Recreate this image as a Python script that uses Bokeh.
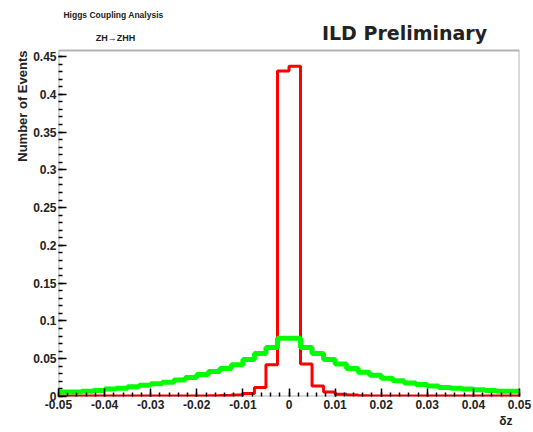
import numpy as np
from bokeh.plotting import figure
from bokeh.models import Range1d, FixedTicker, Label, Title, BoxAnnotation
from bokeh.embed import file_html
from bokeh.resources import INLINE

# ---- data ----
X_MIN, X_MAX, N_BINS = -0.05, 0.05, 40
bin_edges = [X_MIN + (X_MAX - X_MIN) * i / N_BINS for i in range(N_BINS + 1)]

red_values = [0.0005, 0.0005, 0.0005, 0.0005, 0.0005, 0.0005, 0.0005, 0.0005,
              0.0005, 0.0005, 0.0007, 0.0007, 0.0008, 0.0010, 0.0012, 0.0020,
              0.0040, 0.0120, 0.0420, 0.4310, 0.4370, 0.0430, 0.0140, 0.0060,
              0.0030, 0.0020, 0.0010, 0.0008, 0.0007, 0.0006, 0.0005, 0.0005,
              0.0005, 0.0005, 0.0005, 0.0005, 0.0005, 0.0005, 0.0005, 0.0005]

green_values = [0.006, 0.006, 0.007, 0.008, 0.010, 0.011, 0.013, 0.015,
                0.017, 0.019, 0.022, 0.025, 0.029, 0.033, 0.037, 0.042,
                0.049, 0.057, 0.065, 0.077, 0.077, 0.065, 0.057, 0.049,
                0.043, 0.037, 0.032, 0.028, 0.024, 0.021, 0.018, 0.016,
                0.014, 0.012, 0.011, 0.010, 0.009, 0.008, 0.007, 0.007]

x_ticks = [-0.05, -0.04, -0.03, -0.02, -0.01, 0.0, 0.01, 0.02, 0.03, 0.04, 0.05]
x_tick_labels = ["-0.05", "-0.04", "-0.03", "-0.02", "-0.01", "0",
                 "0.01", "0.02", "0.03", "0.04", "0.05"]
y_ticks = [0.0, 0.05, 0.1, 0.15, 0.2, 0.25, 0.3, 0.35, 0.4, 0.45]
y_tick_labels = ["0", "0.05", "0.1", "0.15", "0.2", "0.25", "0.3", "0.35", "0.4", "0.45"]
x_minor = [round(-0.05 + 0.002 * i, 4) for i in range(51)]
y_minor = [round(0.01 * i, 3) for i in range(46)]

Y_MAX = 0.458

# ---- layout geometry (canvas px) ----
W, H = 533, 432
FL, FR, FT, FB = 58, 519, 50, 396      # histogram frame box
Y_TOP = Y_MAX * FB / (FB - FT)           # extend plotting area to top of canvas

p = figure(width=W, height=H, output_backend="svg", toolbar_location=None,
           x_range=Range1d(X_MIN, X_MAX), y_range=Range1d(0, Y_TOP),
           min_border_left=FL, min_border_right=W - FR, min_border_top=0,
           min_border_bottom=H - FB)
p.background_fill_color = "white"
p.border_fill_color = "white"
p.grid.visible = False
p.outline_line_color = None

def step_xy(vals):
    return bin_edges, list(vals) + [vals[-1]]

xr, yr = step_xy(red_values)
p.step(xr, yr, mode="after", line_color="#ff0000", line_width=3)
xg, yg = step_xy(green_values)
p.step(xg, yg, mode="after", line_color="#00ff00", line_width=5)

# histogram frame
p.add_layout(BoxAnnotation(left=X_MIN, right=X_MAX, bottom=0, top=Y_MAX,
                           fill_alpha=0, line_color="black", line_width=2))

for ax in (p.xaxis[0], p.yaxis[0]):
    ax.axis_line_color = None
    ax.major_tick_line_color = "black"
    ax.minor_tick_line_color = "black"
    ax.major_tick_line_width = 1.5
    ax.minor_tick_line_width = 1.5
    ax.major_tick_out = 0
    ax.minor_tick_out = 0
    ax.major_label_text_font = "Liberation Sans"
    ax.major_label_text_font_style = "bold"
    ax.major_label_text_font_size = "12px"
    ax.major_label_text_color = "#222222"

p.xaxis.ticker = FixedTicker(ticks=x_ticks, minor_ticks=x_minor)
p.xaxis.major_label_overrides = {t: l for t, l in zip(x_ticks, x_tick_labels)}
p.xaxis.major_tick_in = 8
p.xaxis.minor_tick_in = 4
p.xaxis.major_label_standoff = 3

p.yaxis.ticker = FixedTicker(ticks=y_ticks, minor_ticks=y_minor)
p.yaxis.major_label_overrides = {t: l for t, l in zip(y_ticks, y_tick_labels)}
p.yaxis.major_tick_in = 8
p.yaxis.minor_tick_in = 4
p.yaxis.major_label_standoff = 2

# axis titles
p.add_layout(Title(text="Number of Events", align="right", offset=FT,
                   text_font="Liberation Sans", text_font_style="bold",
                   text_font_size="13px", text_color="#222222", standoff=2), "left")
p.add_layout(Title(text="\u03b4z", align="right", offset=7,
                   text_font="Liberation Sans", text_font_style="bold",
                   text_font_size="12px", text_color="#222222", standoff=0), "below")

# header texts (canvas px -> data coords)
def cx(px):
    return X_MIN + (px - FL) / (FR - FL) * (X_MAX - X_MIN)

def cy(py):
    return (FB - py) / (FB - FT) * Y_MAX

def lab(text, x, y, size, font="Liberation Sans", style="bold"):
    p.add_layout(Label(x=cx(x), y=cy(y), text=text, text_font=font,
                       text_font_style=style, text_font_size=size,
                       text_align="center", text_baseline="middle",
                       text_color="#222222"))

lab("Higgs Coupling Analysis", 113, 14, "8.5px")
lab("ZH\u2192ZHH", 115, 37, "9px")
lab("ILD Preliminary", 404, 32, "19px", font="DejaVu Sans")

open("out.html", "w").write(file_html(p, INLINE))
